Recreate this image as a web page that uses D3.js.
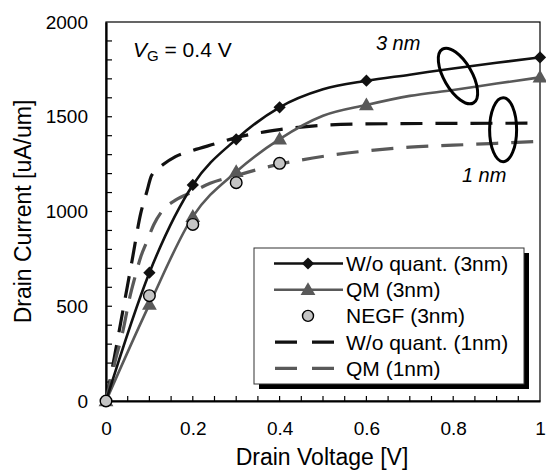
<!DOCTYPE html>
<html><head><meta charset="utf-8">
<script src="https://cdn.jsdelivr.net/npm/d3@7"></script>
<style>
html,body{margin:0;padding:0;background:#fff;}
svg{display:block;font-family:"Liberation Sans",Arial,sans-serif;}
</style></head>
<body>
<svg id="chart" width="546" height="470"></svg>
<script>
// ---- data ----
const xLine = [0, 0.1, 0.2, 0.3, 0.4, 0.5, 0.6, 0.7, 0.8, 0.9, 1.0];
const woQuant3 = [0, 677, 1140, 1381, 1550, 1645, 1690, 1722, 1755, 1785, 1813];
const qm3 = [0, 510, 973, 1210, 1382, 1505, 1562, 1610, 1641, 1675, 1708];
const markerX = [0, 0.1, 0.2, 0.3, 0.4, 0.6, 1.0];
const negfX = [0, 0.1, 0.2, 0.3, 0.4];
const negf3 = [0, 556, 932, 1152, 1254];
const woQuant1X = [0, 0.02, 0.04, 0.06, 0.08, 0.094, 0.105, 0.13, 0.16, 0.2, 0.25, 0.3, 0.4, 0.5, 0.6, 0.8, 1.0];
const woQuant1 = [0, 240, 490, 740, 990, 1104, 1190, 1245, 1290, 1322, 1356, 1390, 1432, 1455, 1462, 1465, 1466];
const qm1X = [0, 0.02, 0.04, 0.055, 0.067, 0.08, 0.094, 0.11, 0.13, 0.16, 0.2, 0.24, 0.3, 0.35, 0.4, 0.45, 0.6, 0.7, 0.8, 0.9, 1.0];
const qm1 = [0, 200, 380, 550, 656, 760, 840, 930, 1005, 1060, 1104, 1149, 1190, 1222, 1250, 1272, 1320, 1340, 1350, 1360, 1370];
const xTicks = [0, 0.2, 0.4, 0.6, 0.8, 1];
const xTickLabels = ["0", "0.2", "0.4", "0.6", "0.8", "1"];
const yTicks = [0, 500, 1000, 1500, 2000];
const legendLabels = ["W/o quant. (3nm)", "QM (3nm)", "NEGF (3nm)", "W/o quant. (1nm)", "QM (1nm)"];

// ---- layout ----
const svg = d3.select("#chart");
const L = 106, R = 540, T = 22, B = 401;
const x = d3.scaleLinear().domain([0, 1]).range([L, R]);
const y = d3.scaleLinear().domain([0, 2000]).range([B, T]);
const BLACK = "#111", GRAY = "#595959";

// frame (top/right)
svg.append("rect").attr("x", L).attr("y", T).attr("width", R - L).attr("height", B - T)
  .attr("fill", "none").attr("stroke", "#000").attr("stroke-width", 1.2);

// Y axis
const yAxis = d3.axisLeft(y).tickValues(yTicks).tickSize(0).tickPadding(18).tickFormat(d3.format("d"));
const gy = svg.append("g").attr("transform", `translate(${L},0)`).call(yAxis);
gy.select(".domain").attr("stroke", "#000").attr("stroke-width", 2.2);
gy.selectAll("text").attr("font-size", 19).attr("fill", "#000").attr("font-family", "Liberation Sans, Arial, sans-serif");
svg.append("g").selectAll("line").data(d3.range(100, 2000, 100)).join("line")
  .attr("x1", L).attr("x2", L + 6).attr("y1", d => y(d)).attr("y2", d => y(d))
  .attr("stroke", "#000").attr("stroke-width", 1.2);

// X axis
const xAxis = d3.axisBottom(x).tickValues(xTicks).tickSize(0).tickPadding(21).tickFormat((d, i) => xTickLabels[i]);
const gx = svg.append("g").attr("transform", `translate(0,${B})`).call(xAxis);
gx.select(".domain").attr("stroke", "#000").attr("stroke-width", 2.2);
gx.selectAll("text").attr("font-size", 19).attr("fill", "#000").attr("font-family", "Liberation Sans, Arial, sans-serif");
svg.append("g").selectAll("line").data(d3.range(1, 20).map(i => i * 0.05)).join("line")
  .attr("x1", d => x(d)).attr("x2", d => x(d)).attr("y1", B).attr("y2", B - 5)
  .attr("stroke", "#000").attr("stroke-width", 1.2);

// axis titles
svg.append("text").attr("x", 322).attr("y", 465).attr("text-anchor", "middle")
  .attr("font-size", 23).text("Drain Voltage [V]");
svg.append("text").attr("transform", `translate(31,${(T + B) / 2}) rotate(-90)`).attr("text-anchor", "middle")
  .attr("font-size", 23).text("Drain Current [uA/um]");

// lines
const lineGen = d3.line().x(d => x(d[0])).y(d => y(d[1])).curve(d3.curveMonotoneX);
const plot = svg.append("g");
plot.append("path").datum(d3.zip(woQuant1X, woQuant1)).attr("d", lineGen)
  .attr("fill", "none").attr("stroke", BLACK).attr("stroke-width", 3.2).attr("stroke-dasharray", "22,13");
plot.append("path").datum(d3.zip(qm1X, qm1)).attr("d", lineGen)
  .attr("fill", "none").attr("stroke", GRAY).attr("stroke-width", 3.2).attr("stroke-dasharray", "22,13");
plot.append("path").datum(d3.zip(xLine, qm3)).attr("d", lineGen)
  .attr("fill", "none").attr("stroke", GRAY).attr("stroke-width", 2.6);
plot.append("path").datum(d3.zip(xLine, woQuant3)).attr("d", lineGen)
  .attr("fill", "none").attr("stroke", BLACK).attr("stroke-width", 2.6);

const valAt = (arr, xv) => arr[xLine.findIndex(v => Math.abs(v - xv) < 1e-9)];
const sq = d3.symbol().type(d3.symbolSquare).size(75);
const tri = d3.symbol().type(d3.symbolTriangle).size(95);

plot.append("g").selectAll("path").data(markerX).join("path")
  .attr("d", tri).attr("transform", d => `translate(${x(d)},${y(valAt(qm3, d)) + 1})`)
  .attr("fill", GRAY);
plot.append("g").selectAll("path").data(markerX).join("path")
  .attr("d", sq).attr("transform", d => `translate(${x(d)},${y(valAt(woQuant3, d))}) rotate(45)`)
  .attr("fill", BLACK);
plot.append("g").selectAll("circle").data(d3.zip(negfX, negf3)).join("circle")
  .attr("cx", d => x(d[0])).attr("cy", d => y(d[1])).attr("r", 5.8)
  .attr("fill", "#c4c4c4").attr("stroke", "#000").attr("stroke-width", 1.4);

// annotations
svg.append("text").attr("x", 133).attr("y", 57).attr("font-size", 21)
  .html('<tspan font-style="italic">V</tspan><tspan font-size="15" dy="4">G</tspan><tspan dy="-4"> = 0.4 V</tspan>');
svg.append("text").attr("x", x(0.622)).attr("y", y(1852)).attr("font-size", 20).attr("font-style", "italic").text("3 nm");
svg.append("text").attr("x", x(0.82)).attr("y", y(1155)).attr("font-size", 20).attr("font-style", "italic").text("1 nm");
svg.append("ellipse").attr("transform", `translate(${x(0.811)},${y(1715)}) rotate(-30)`)
  .attr("rx", 14).attr("ry", 31).attr("fill", "none").attr("stroke", "#000").attr("stroke-width", 3);
svg.append("ellipse").attr("cx", x(0.915)).attr("cy", y(1432)).attr("rx", 13.5).attr("ry", 32)
  .attr("fill", "none").attr("stroke", "#000").attr("stroke-width", 3);

// legend
const lg = svg.append("g");
const LX = 254, LY = 248, LW = 270, LH = 136;
lg.append("rect").attr("x", LX + 5).attr("y", LY + 5).attr("width", LW).attr("height", LH).attr("fill", "#000");
lg.append("rect").attr("x", LX).attr("y", LY).attr("width", LW).attr("height", LH).attr("fill", "#fff")
  .attr("stroke", "#333").attr("stroke-width", 1);
const rowY = i => 263.5 + i * 26.2;
const styles = [
  {c: BLACK, dash: null, m: "d"}, {c: GRAY, dash: null, m: "t"}, {c: null, dash: null, m: "c"},
  {c: BLACK, dash: "22,15", m: null}, {c: GRAY, dash: "22,15", m: null}
];
legendLabels.forEach((lab, i) => {
  const s = styles[i], cy = rowY(i);
  if (s.c) {
    const ln = lg.append("line").attr("x1", 274).attr("x2", 343).attr("y1", cy).attr("y2", cy)
      .attr("stroke", s.c).attr("stroke-width", s.dash ? 3.2 : 2.6);
    if (s.dash) ln.attr("stroke-dasharray", s.dash).attr("x1", 275).attr("x2", 334);
  }
  if (s.m === "d") lg.append("path").attr("d", sq).attr("transform", `translate(308,${cy}) rotate(45)`).attr("fill", BLACK);
  if (s.m === "t") lg.append("path").attr("d", tri).attr("transform", `translate(308,${cy + 1})`).attr("fill", GRAY);
  if (s.m === "c") lg.append("circle").attr("cx", 308).attr("cy", cy).attr("r", 5.5).attr("fill", "#c4c4c4").attr("stroke", "#000").attr("stroke-width", 1.4);
  lg.append("text").attr("x", 346).attr("y", cy + 7.5).attr("font-size", 21).text(lab);
});
</script>
</body></html>
